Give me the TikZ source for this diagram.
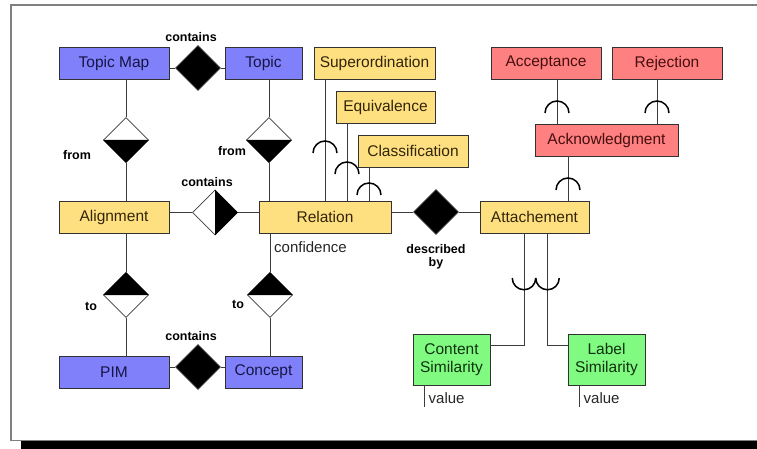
\documentclass[tikz,border=0pt]{standalone}
\usepackage{fontspec}
\setmainfont{Liberation Sans}
\usetikzlibrary{shapes.geometric}

\definecolor{fillblue}{RGB}{128,128,250}
\definecolor{inkblue}{RGB}{22,22,70}
\definecolor{fillyellow}{RGB}{255,224,128}
\definecolor{inkyellow}{RGB}{50,38,10}
\definecolor{fillred}{RGB}{255,128,128}
\definecolor{inkred}{RGB}{70,15,15}
\definecolor{fillgreen}{RGB}{128,250,128}
\definecolor{inkgreen}{RGB}{15,50,15}
\definecolor{edgegray}{RGB}{50,50,50}
\definecolor{wiregray}{RGB}{60,60,60}
\definecolor{framegray}{RGB}{128,128,128}

\begin{document}
\begin{tikzpicture}[x=1pt,y=-1pt,
  box/.style={draw=edgegray, line width=0.9pt, inner sep=0pt, minimum height=32pt,
              font=\fontsize{15.5}{18}\selectfont, align=center},
  bluebox/.style={box, fill=fillblue, text=inkblue},
  yellowbox/.style={box, fill=fillyellow, text=inkyellow},
  redbox/.style={box, fill=fillred, text=inkred},
  greenbox/.style={box, fill=fillgreen, text=inkgreen, minimum height=51pt},
  rel/.style={diamond, draw=wiregray, line width=0.8pt, fill=white,
              minimum width=45pt, minimum height=45pt, inner sep=0pt},
  solidrel/.style={rel, fill=black},
  wire/.style={draw=wiregray, line width=0.9pt},
  socket/.style={draw=black, line width=1.5pt},
  verb/.style={font=\bfseries\fontsize{12.5}{13}\selectfont, inner sep=0pt, align=center},
  attr/.style={font=\fontsize{15}{17}\selectfont, inner sep=0pt, text=black!85},
]
\useasboundingbox (0,0) rectangle (757,449);

% frame with drop shadow
\fill[black] (21,441) rectangle (757,449);
\draw[framegray, line width=1.5pt] (757,5) -- (11,5) -- (11,440.5) -- (757,440.5);

% entities
\node[bluebox, minimum width=110pt] (tm) at (114,63) {Topic Map};
\node[bluebox, minimum width=77pt] (topic) at (263.5,63) {Topic};
\node[yellowbox, minimum width=110pt] (align) at (114,217) {Alignment};
\node[yellowbox, minimum width=132pt] (relation) at (325,217) {Relation};
\node[bluebox, minimum width=110pt] (pim) at (114,372) {PIM};
\node[bluebox, minimum width=77pt] (concept) at (263.5,372) {Concept};
\node[yellowbox, minimum width=121pt] (super) at (374.5,63) {Superordination};
\node[yellowbox, minimum width=99pt] (equiv) at (385.5,107) {Equivalence};
\node[yellowbox, minimum width=110pt] (classif) at (413,151) {Classification};
\node[yellowbox, minimum width=109pt] (attach) at (534.5,217) {Attachement};
\node[redbox, minimum width=143pt] (ack) at (606.5,140) {Acknowledgment};
\node[redbox, minimum width=110pt] (accept) at (546,63) {Acceptance};
\node[redbox, minimum width=110pt] (reject) at (667,63) {Rejection};
\node[greenbox, minimum width=77pt] (content) at (451.5,359.5) {Content\\Similarity};
\node[greenbox, minimum width=77pt] (label) at (606.5,359.5) {Label\\Similarity};

% relationships
\node[solidrel] (cTop) at (198,68) {};
\node[rel] (fromL) at (126,140) {};
\node[rel] (fromR) at (269,140) {};
\node[rel] (cMid) at (215,212.5) {};
\node[rel] (toL) at (126,295) {};
\node[rel] (toR) at (270,295) {};
\node[solidrel] (cBot) at (198,367) {};
\node[solidrel] (descr) at (436,212) {};

% half-filled relationships
\fill (fromL.west) -- (fromL.east) -- (fromL.south) -- cycle;
\fill (fromR.west) -- (fromR.east) -- (fromR.south) -- cycle;
\fill (toL.west) -- (toL.east) -- (toL.north) -- cycle;
\fill (toR.west) -- (toR.east) -- (toR.north) -- cycle;
\fill (cMid.north) -- (cMid.south) -- (cMid.east) -- cycle;

% relationship labels
\node[verb] (lcTop) at (191,37) {contains};
\node[verb] (lfromL) at (77,155) {from};
\node[verb] (lfromR) at (232,151) {from};
\node[verb] (lcMid) at (207,182) {contains};
\node[verb] (ltoL) at (91,306) {to};
\node[verb] (ltoR) at (238,304) {to};
\node[verb] (lcBot) at (191,336) {contains};
\node[verb] (ldescr) at (436,257) {described\\by};

% connectors around the topic map cluster
\draw[wire] (tm.east |- cTop) -- (cTop.west);
\draw[wire] (cTop.east) -- (topic.west |- cTop);
\draw[wire] (fromL |- tm.south) -- (fromL.north);
\draw[wire] (fromL.south) -- (fromL |- align.north);
\draw[wire] (toL |- align.south) -- (toL.north);
\draw[wire] (toL.south) -- (toL |- pim.north);
\draw[wire] (fromR |- topic.south) -- (fromR.north);
\draw[wire] (fromR.south) -- (fromR |- relation.north);
\draw[wire] (toR |- relation.south) -- (toR.north);
\draw[wire] (toR.south) -- (toR |- concept.north);
\draw[wire] (pim.east |- cBot) -- (cBot.west);
\draw[wire] (cBot.east) -- (concept.west |- cBot);
\draw[wire] (align.east |- cMid) -- (cMid.west);
\draw[wire] (cMid.east) -- (relation.west |- cMid);
\draw[wire] (relation.east |- descr) -- (descr.west);
\draw[wire] (descr.east) -- (attach.west |- descr);

% relation subtypes
\coordinate (xSup) at (325,0);
\coordinate (xEqu) at (347,0);
\coordinate (xCla) at (369,0);
\draw[wire] (super.south -| xSup) -- (relation.north -| xSup);
\draw[wire] (equiv.south -| xEqu) -- (relation.north -| xEqu);
\draw[wire] (classif.south -| xCla) -- (relation.north -| xCla);
\draw[socket] (325,153) ++(12pt,0) arc (0:180:12pt);
\draw[socket] (347,174) ++(12pt,0) arc (0:180:12pt);
\draw[socket] (369,195) ++(12pt,0) arc (0:180:12pt);

% acknowledgment subtypes
\coordinate (xAcc) at (557,0);
\coordinate (xRej) at (657,0);
\coordinate (xAck) at (568,0);
\draw[wire] (accept.south -| xAcc) -- (ack.north -| xAcc);
\draw[wire] (reject.south -| xRej) -- (ack.north -| xRej);
\draw[wire] (ack.south -| xAck) -- (attach.north -| xAck);
\draw[socket] (557,113) ++(12pt,0) arc (0:180:12pt);
\draw[socket] (657,113) ++(12pt,0) arc (0:180:12pt);
\draw[socket] (568,190) ++(12pt,0) arc (0:180:12pt);

% similarity measures
\coordinate (kC) at (524,345);
\coordinate (kL) at (547.5,345);
\draw[wire] (attach.south -| kC) -- (kC) -- (content.east |- kC);
\draw[wire] (attach.south -| kL) -- (kL) -- (label.west |- kL);
\draw[socket] (524,278) ++(-11.75pt,0) arc (180:360:11.75pt);
\draw[socket] (547.5,278) ++(-11.75pt,0) arc (180:360:11.75pt);

% attributes
\node[attr, anchor=west] (conf) at (274,247) {confidence};
\coordinate (vC) at (424,407);
\coordinate (vL) at (579,407);
\draw[wire] (content.south -| vC) -- (vC);
\draw[wire] (label.south -| vL) -- (vL);
\node[attr, anchor=west] (valC) at (428.5,398) {value};
\node[attr, anchor=west] (valL) at (583.5,398) {value};
\end{tikzpicture}
\end{document}
